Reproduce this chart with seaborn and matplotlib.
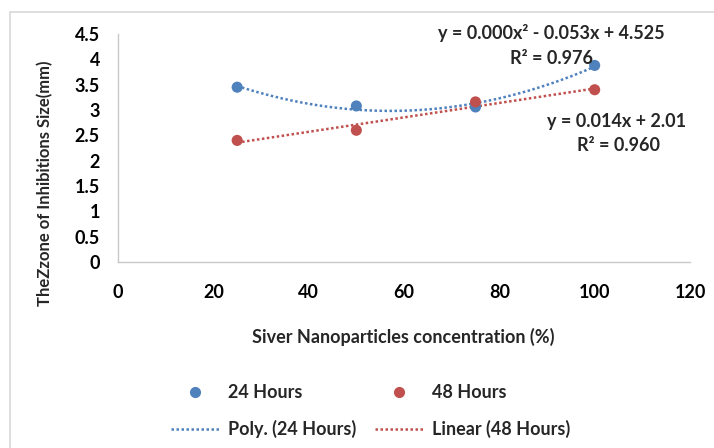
import numpy as np
import pandas as pd
import matplotlib
matplotlib.use('Agg')
import matplotlib.pyplot as plt
import seaborn as sns
from matplotlib.lines import Line2D
from matplotlib.patches import Rectangle

# Valores
concentracao = [25, 50, 75, 100]
horas_24 = [3.45, 3.08, 3.06, 3.88]
horas_48 = [2.40, 2.60, 3.16, 3.40]
series = ['24 Hours', '48 Hours']
x_ticks = [0, 20, 40, 60, 80, 100, 120]
y_ticks = [0, 0.5, 1, 1.5, 2, 2.5, 3, 3.5, 4, 4.5]
y_tick_labels = ['0', '0.5', '1', '1.5', '2', '2.5', '3', '3.5', '4', '4.5']

azul = '#4F81BD'
vermelho = '#C0504D'
fs = 13

sns.set_theme(style='white')
plt.rcParams['font.family'] = ['Lato', 'DejaVu Sans']
plt.rcParams['font.weight'] = 'bold'

df = pd.DataFrame({
    'conc': concentracao * 2,
    'zona': horas_24 + horas_48,
    'serie': [series[0]] * 4 + [series[1]] * 4,
})

fig = plt.figure(figsize=(7.14, 4.48), dpi=100)
ax = fig.add_axes([118 / 714, 1 - 262 / 448, 572 / 714, 228 / 448])

# moldura cinza do gráfico (estilo Excel)
fig.patches.append(Rectangle((10 / 714, -0.1), 1.1, 1 - 12 / 448 + 0.1,
                             transform=fig.transFigure, fill=False,
                             ec='#D9D9D9', lw=1.2))

# linhas de tendência: polinomial (24h) e linear (48h)
xs = np.linspace(25, 100, 200)
coef_poly = np.polyfit(concentracao, horas_24, 2)
coef_lin = np.polyfit(concentracao, horas_48, 1)
sns.lineplot(x=xs, y=np.polyval(coef_poly, xs), color=azul, lw=1.8,
             linestyle=(0, (1, 1)), ax=ax)
sns.lineplot(x=xs, y=np.polyval(coef_lin, xs), color=vermelho, lw=1.8,
             linestyle=(0, (1, 1)), ax=ax)

sns.scatterplot(data=df, x='conc', y='zona', hue='serie',
                palette=[azul, vermelho], s=64, edgecolor='none',
                legend=False, ax=ax, zorder=3)

ax.set_xlim(0, 120)
ax.set_ylim(0, 4.5)
ax.set_xticks(x_ticks)
ax.set_yticks(y_ticks)
ax.set_yticklabels(y_tick_labels)
ax.set_xlabel('')
ax.set_ylabel('')
ax.tick_params(axis='both', length=0, labelsize=fs, colors='black')
ax.tick_params(axis='y', pad=13)
ax.tick_params(axis='x', pad=16)
for lado in ['top', 'right']:
    ax.spines[lado].set_visible(False)
for lado in ['left', 'bottom']:
    ax.spines[lado].set_color('#C8C8C8')
    ax.spines[lado].set_linewidth(1)

# equações das linhas de tendência
ax.text(91, 4.52, 'y = 0.000x² - 0.053x + 4.525', ha='center', va='center', fontsize=fs)
ax.text(91, 4.02, 'R² = 0.976', ha='center', va='center', fontsize=fs)
ax.text(104.6, 2.77, 'y = 0.014x + 2.01', ha='center', va='center', fontsize=fs)
ax.text(104.9, 2.30, 'R² = 0.960', ha='center', va='center', fontsize=fs)

fig.text(45 / 714, 1 - 183 / 448, 'TheZzone of Inhibitions Size(mm)',
         rotation=90, ha='center', va='center', fontsize=12)
fig.text(403 / 714, 1 - 337 / 448, 'Siver Nanoparticles concentration (%)',
         ha='center', va='center', fontsize=fs)

handles = [
    Line2D([], [], marker='o', ls='', color=azul, ms=7),
    Line2D([], [], color=azul, ls=(0, (1, 1)), lw=1.8),
    Line2D([], [], marker='o', ls='', color=vermelho, ms=7),
    Line2D([], [], color=vermelho, ls=(0, (1, 1)), lw=1.8),
]
labels = ['24 Hours', 'Poly. (24 Hours)', '48 Hours', 'Linear (48 Hours)']
fig.legend(handles, labels, ncol=2, loc='center left', bbox_to_anchor=(155 / 714, 1 - 411 / 448),
           frameon=False, fontsize=fs, handlelength=2.66, handletextpad=0.5,
           columnspacing=1.0, labelspacing=1.05)

fig.savefig('out.png', dpi=100)
